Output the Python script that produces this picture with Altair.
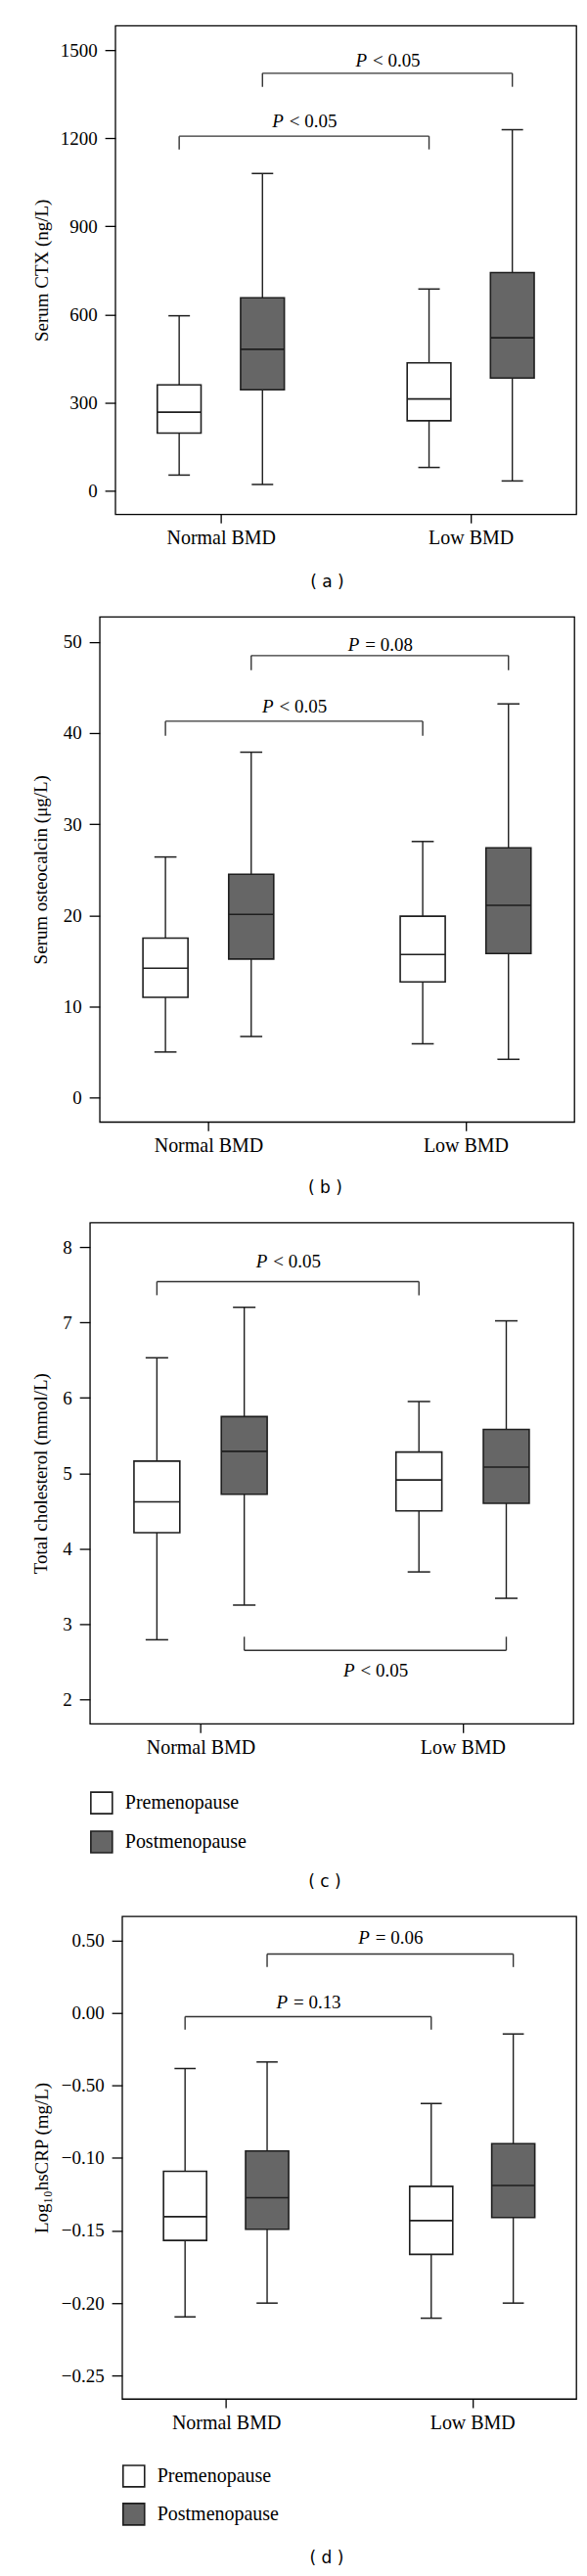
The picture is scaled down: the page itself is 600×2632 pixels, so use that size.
import json
import altair as alt
import pandas as pd

# ---------------- data ----------------
GROUPS = ["Normal BMD", "Low BMD"]
STATUS = ["Premenopause", "Postmenopause"]
BOX_GROUP = ["Normal BMD", "Normal BMD", "Low BMD", "Low BMD"]
BOX_STATUS = ["Premenopause", "Postmenopause", "Premenopause", "Postmenopause"]

# (a) Serum CTX (ng/L)
CTX_MIN = [54, 22, 80, 34]
CTX_Q1 = [197, 344, 239, 384]
CTX_MEDIAN = [268, 482, 313, 521]
CTX_Q3 = [361, 657, 436, 743]
CTX_MAX = [596, 1080, 687, 1229]
CTX_TICKS = [0, 300, 600, 900, 1200, 1500]
CTX_TICK_LABELS = ["0", "300", "600", "900", "1200", "1500"]
CTX_BR_STATUS = ["Premenopause", "Postmenopause"]
CTX_BR_Y = [1207, 1421]
CTX_BR_TIP = [1162, 1375]
CTX_BR_LABEL_Y = [1257, 1463]
CTX_BR_TEXT = ["< 0.05", "< 0.05"]

# (b) Serum osteocalcin (ug/L)
OC_MIN = [5.0, 6.7, 5.9, 4.2]
OC_Q1 = [11.0, 15.2, 12.7, 15.8]
OC_MEDIAN = [14.2, 20.1, 15.7, 21.1]
OC_Q3 = [17.5, 24.5, 19.9, 27.4]
OC_MAX = [26.4, 37.9, 28.1, 43.2]
OC_TICKS = [0, 10, 20, 30, 40, 50]
OC_TICK_LABELS = ["0", "10", "20", "30", "40", "50"]
OC_BR_STATUS = ["Premenopause", "Postmenopause"]
OC_BR_Y = [41.3, 48.5]
OC_BR_TIP = [39.7, 46.9]
OC_BR_LABEL_Y = [42.95, 49.7]
OC_BR_TEXT = ["< 0.05", "= 0.08"]

# (c) Total cholesterol (mmol/L)
TC_MIN = [2.79, 3.25, 3.69, 3.34]
TC_Q1 = [4.21, 4.72, 4.50, 4.60]
TC_MEDIAN = [4.62, 5.29, 4.91, 5.08]
TC_Q3 = [5.16, 5.75, 5.28, 5.58]
TC_MAX = [6.53, 7.20, 5.95, 7.02]
TC_TICKS = [2, 3, 4, 5, 6, 7, 8]
TC_TICK_LABELS = ["2", "3", "4", "5", "6", "7", "8"]
TC_BR_STATUS = ["Premenopause", "Postmenopause"]
TC_BR_Y = [7.54, 2.65]
TC_BR_TIP = [7.36, 2.83]
TC_BR_LABEL_Y = [7.80, 2.38]
TC_BR_TEXT = ["< 0.05", "< 0.05"]

# (d) Log10 hsCRP (mg/L)
CRP_MIN = [-0.2095, -0.200, -0.2104, -0.200]
CRP_Q1 = [-0.1568, -0.1491, -0.1664, -0.1411]
CRP_MEDIAN = [-0.1405, -0.1274, -0.1432, -0.1190]
CRP_Q3 = [-0.1092, -0.0952, -0.1196, -0.0902]
CRP_MAX = [-0.0384, -0.0339, -0.0625, -0.0146]
CRP_TICKS = [0.05, 0.0, -0.05, -0.10, -0.15, -0.20, -0.25]
CRP_TICK_LABELS = ["0.50", "0.00", "\u22120.50", "\u22120.10", "\u22120.15", "\u22120.20", "\u22120.25"]
CRP_BR_STATUS = ["Premenopause", "Postmenopause"]
CRP_BR_Y = [-0.0027, 0.0405]
CRP_BR_TIP = [-0.0116, 0.0315]
CRP_BR_LABEL_Y = [0.0068, 0.0518]
CRP_BR_TEXT = ["= 0.13", "= 0.06"]

# ---------------- style ----------------
SERIF = "Liberation Serif"
SANS = "DejaVu Sans"
FILL_RANGE = ["#ffffff", "#666666"]
INK = "#1e1e1e"
SUB = 1 / 6        # offset of each box from its group centre (x units)
BOX_HALF = 0.0875  # half box width (x units)
CAP_HALF = 0.043   # half whisker-cap width (x units)
X_DOMAIN = [-0.4225, 1.4225]

GROUP_IDX = f"indexof({json.dumps(GROUPS)}, datum.group)"
OFFSET = f"(datum.status === '{STATUS[0]}' ? {-SUB} : {SUB})"


def label_expr(ticks, labels):
    expr = "''"
    for t, l in zip(ticks, labels):
        expr = f"abs(datum.value - ({t})) < 1e-9 ? '{l}' : ({expr})"
    return expr


def panel(ytitle, caption, mins, q1, med, q3, maxs, ticks, tick_labels, ydomain,
          br_status, br_y, br_tip, br_ly, br_text, width, height, title_pad,
          cap_dx, cap_offset, legend_y=None, row_pad=11):
    boxes = pd.DataFrame({"group": BOX_GROUP, "status": BOX_STATUS, "lo": mins,
                          "q1": q1, "med": med, "q3": q3, "hi": maxs})
    brackets = pd.DataFrame({"status": br_status, "y": br_y, "tip": br_tip,
                             "ly": br_ly, "text": br_text})
    ends = brackets.merge(pd.DataFrame({"group": GROUPS}), how="cross")

    xs = alt.Scale(domain=X_DOMAIN, nice=False, zero=False)
    ys = alt.Scale(domain=ydomain, nice=False, zero=False)
    xaxis = alt.Axis(values=[0, 1], title=None,
                     labelExpr=f"{json.dumps(GROUPS)}[round(datum.value)]")
    yaxis = alt.Axis(values=ticks, title=ytitle, titlePadding=title_pad,
                     labelExpr=label_expr(ticks, tick_labels))

    def X(f):
        return alt.X(f, type="quantitative", scale=xs, axis=xaxis)

    def Y(f):
        return alt.Y(f, type="quantitative", scale=ys, axis=yaxis)

    bx = alt.Chart(boxes).transform_calculate(gi=GROUP_IDX).transform_calculate(
        xc=f"datum.gi + {OFFSET}"
    ).transform_calculate(
        bl=f"datum.xc - {BOX_HALF}", br=f"datum.xc + {BOX_HALF}",
        cl=f"datum.xc - {CAP_HALF}", cr=f"datum.xc + {CAP_HALF}")

    whisker = bx.mark_rule(color=INK, strokeWidth=1.4).encode(x=X("xc"), y=Y("lo"), y2="hi")
    cap_lo = bx.mark_rule(color=INK, strokeWidth=1.5).encode(x=X("cl"), x2="cr", y=Y("lo"))
    cap_hi = bx.mark_rule(color=INK, strokeWidth=1.5).encode(x=X("cl"), x2="cr", y=Y("hi"))
    if legend_y is not None:
        leg = alt.Legend(title=None, orient="none", legendX=0, legendY=height + legend_y,
                         symbolType="square", symbolSize=484, symbolStrokeColor=INK,
                         symbolStrokeWidth=1.6, symbolOpacity=1, labelFont=SERIF,
                         labelFontSize=20, labelColor="black", labelOffset=12,
                         rowPadding=row_pad, padding=0)
    else:
        leg = None
    box = bx.mark_rect(stroke=INK, strokeWidth=1.6, opacity=1).encode(
        x=X("bl"), x2="br", y=Y("q1"), y2="q3",
        fill=alt.Fill("status:N", scale=alt.Scale(domain=STATUS, range=FILL_RANGE),
                      legend=leg))
    median = bx.mark_rule(color=INK, strokeWidth=1.6).encode(x=X("bl"), x2="br", y=Y("med"))

    br = alt.Chart(brackets).transform_calculate(off=OFFSET).transform_calculate(
        x0="datum.off", x1="1 + datum.off", xm="0.5 + datum.off")
    br_line = br.mark_rule(color="#333333", strokeWidth=1.4).encode(x=X("x0"), x2="x1", y=Y("y"))
    br_p = br.mark_text(font=SERIF, fontSize=19, fontStyle="italic", align="right",
                        baseline="middle", dx=-21, color="black").encode(
        x=X("xm"), y=Y("ly"), text=alt.value("P"))
    br_t = br.mark_text(font=SERIF, fontSize=19, align="left", baseline="middle",
                        dx=-15, color="black").encode(
        x=X("xm"), y=Y("ly"), text=alt.Text("text:N"))
    tips = alt.Chart(ends).transform_calculate(gi=GROUP_IDX).transform_calculate(
        xe=f"datum.gi + {OFFSET}")
    br_tips = tips.mark_rule(color="#333333", strokeWidth=1.4).encode(x=X("xe"), y=Y("y"), y2="tip")

    return alt.layer(whisker, box, median, cap_lo, cap_hi, br_line, br_tips, br_p, br_t).properties(
        width=width, height=height,
        title=alt.TitleParams(caption, orient="bottom", anchor="middle", font=SANS,
                              fontSize=17, fontWeight="normal", color="black",
                              dx=cap_dx, offset=cap_offset))


def spacer():
    # invisible 1px column so that every panel's left bound (axis title) lines up
    return alt.Chart(pd.DataFrame({"s": [0]})).mark_point(opacity=0).encode(
        x=alt.X("s:Q", axis=None), y=alt.Y("s:Q", axis=None)
    ).properties(width=1, height=1,
                 view=alt.ViewBackground(strokeOpacity=0, strokeWidth=0))


pa = panel("Serum CTX (ng/L)", "( a )", CTX_MIN, CTX_Q1, CTX_MEDIAN, CTX_Q3, CTX_MAX,
           CTX_TICKS, CTX_TICK_LABELS, [-79, 1583],
           CTX_BR_STATUS, CTX_BR_Y, CTX_BR_TIP, CTX_BR_LABEL_Y, CTX_BR_TEXT,
           472, 500, 9, -19, 28)
pb = panel("Serum osteocalcin (\u03bcg/L)", "( b )", OC_MIN, OC_Q1, OC_MEDIAN, OC_Q3, OC_MAX,
           OC_TICKS, OC_TICK_LABELS, [-2.67, 52.76],
           OC_BR_STATUS, OC_BR_Y, OC_BR_TIP, OC_BR_LABEL_Y, OC_BR_TEXT,
           486, 517, 12.5, -12, 26)
pc = panel("Total cholesterol (mmol/L)", "( c )", TC_MIN, TC_Q1, TC_MEDIAN, TC_Q3, TC_MAX,
           TC_TICKS, TC_TICK_LABELS, [1.676, 8.324],
           TC_BR_STATUS, TC_BR_Y, TC_BR_TIP, TC_BR_LABEL_Y, TC_BR_TEXT,
           495, 513, 11.8, -7, 18, legend_y=69, row_pad=10)
pd_ = panel("Log\u2081\u2080hsCRP (mg/L)", "( d )", CRP_MIN, CRP_Q1, CRP_MEDIAN, CRP_Q3, CRP_MAX,
            CRP_TICKS, CRP_TICK_LABELS, [-0.266, 0.0665],
            CRP_BR_STATUS, CRP_BR_Y, CRP_BR_TIP, CRP_BR_LABEL_Y, CRP_BR_TEXT,
            465, 494, 10, -23, 22, legend_y=67, row_pad=9)

chart = alt.concat(spacer(), pa, spacer(), pb, spacer(), pc, spacer(), pd_,
                   columns=2, spacing={"row": 25, "column": 0}, align="none",
                   padding={"left": 17, "top": 13, "right": 2, "bottom": 0}).resolve_scale(
    x="independent", y="independent", fill="independent"
).resolve_legend(fill="independent").configure_view(
    stroke="black", strokeWidth=1.3
).configure_axis(
    domain=False, grid=False, labelFont=SERIF, labelFontSize=19, labelColor="black",
    titleFont=SERIF, titleFontSize=19, titleFontWeight="normal", titleColor="black",
    tickColor="black", tickWidth=1.3
).configure_axisY(tickSize=10.7, labelPadding=8).configure_axisX(
    tickSize=9, labelPadding=5, labelFontSize=20)

chart.save("out.html", embed_options={"renderer": "svg", "actions": False})
